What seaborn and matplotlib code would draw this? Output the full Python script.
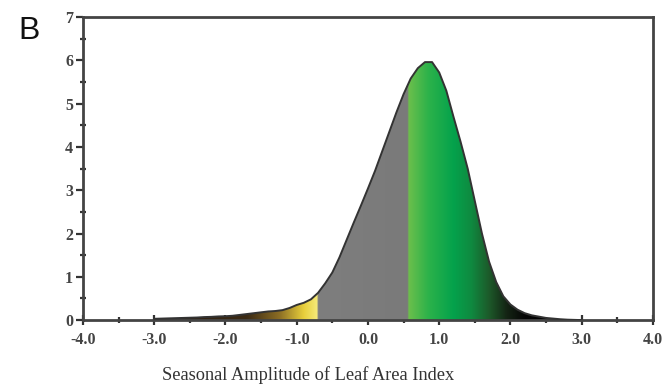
import numpy as np
import pandas as pd
import matplotlib
matplotlib.use("Agg")
import matplotlib.pyplot as plt
from matplotlib.colors import LinearSegmentedColormap, to_rgb
from matplotlib.ticker import MultipleLocator, FormatStrFormatter
import seaborn as sns

# Seasonal amplitude of LAI and its frequency density
lai_amplitude = [-3.0, -2.9, -2.8, -2.7, -2.6, -2.5, -2.4, -2.3, -2.2, -2.1,
                 -2.0, -1.9, -1.8, -1.7, -1.6, -1.5, -1.4, -1.3, -1.2, -1.1,
                 -1.0, -0.9, -0.8, -0.7, -0.6, -0.5, -0.4, -0.3, -0.2, -0.1,
                 0.0, 0.1, 0.2, 0.3, 0.4, 0.5, 0.6, 0.7, 0.8, 0.9,
                 1.0, 1.1, 1.2, 1.3, 1.4, 1.5, 1.6, 1.7, 1.8, 1.9,
                 2.0, 2.1, 2.2, 2.3, 2.4, 2.5, 2.6, 2.7, 2.8, 2.9, 3.0]
density = [0.03, 0.035, 0.04, 0.045, 0.05, 0.055, 0.06, 0.07, 0.075, 0.085,
           0.09, 0.10, 0.12, 0.14, 0.16, 0.18, 0.20, 0.21, 0.23, 0.28,
           0.35, 0.40, 0.48, 0.63, 0.85, 1.10, 1.45, 1.85, 2.25, 2.64,
           3.04, 3.45, 3.90, 4.35, 4.80, 5.22, 5.58, 5.82, 5.96, 5.96,
           5.72, 5.30, 4.70, 4.12, 3.50, 2.75, 2.00, 1.35, 0.88, 0.55,
           0.36, 0.24, 0.16, 0.11, 0.08, 0.05, 0.035, 0.02, 0.01, 0.005, 0.0]

x_ticks = [-4.0, -3.0, -2.0, -1.0, 0.0, 1.0, 2.0, 3.0, 4.0]
y_ticks = [0, 1, 2, 3, 4, 5, 6, 7]

df = pd.DataFrame({"amp": lai_amplitude, "dens": density})

sns.set_style("ticks")
plt.rcParams["font.family"] = ["Liberation Serif", "DejaVu Serif"]

fig = plt.figure(figsize=(6.69, 3.88), dpi=100)
ax = fig.add_axes([0.124, 0.175, 0.852, 0.781])

# colour ramp along the x axis: brown->yellow, grey, green->black
xmin, xmax = -3.0, 3.0
stops = [(-3.0, "#2a1c12"), (-1.7, "#3b2a14"), (-1.25, "#8a6c24"),
         (-0.9, "#e8cf3c"), (-0.71, "#f6ea7a"),
         (-0.70, "#7e7e7e"), (0.56, "#7a7a7a"),
         (0.57, "#6cbf4c"), (0.85, "#2cb24a"), (1.2, "#04a24c"),
         (1.45, "#0f8a40"), (1.7, "#1d5a2a"), (1.95, "#142414"),
         (2.2, "#060606"), (3.0, "#000000")]
cmap = LinearSegmentedColormap.from_list(
    "lai", [((p - xmin) / (xmax - xmin), to_rgb(c)) for p, c in stops], N=1024)
grad = np.linspace(0, 1, 1200).reshape(1, -1)

poly = ax.fill_between(df["amp"], 0, df["dens"], color="none", lw=0)
img = ax.imshow(grad, cmap=cmap, extent=[xmin, xmax, 0, 7], aspect="auto",
                origin="lower", zorder=1, interpolation="bilinear")
img.set_clip_path(poly.get_paths()[0], transform=ax.transData)

sns.lineplot(data=df, x="amp", y="dens", ax=ax, color="#333333", lw=1.4,
             zorder=3)

ax.set_xlim(-4, 4)
ax.set_ylim(0, 7)
ax.set_xticks(x_ticks)
ax.set_yticks(y_ticks)
ax.xaxis.set_major_formatter(FormatStrFormatter("%.1f"))
ax.xaxis.set_minor_locator(MultipleLocator(0.5))
ax.yaxis.set_minor_locator(MultipleLocator(0.5))
ax.tick_params(axis="both", which="major", labelsize=11.5, colors="#333333",
               length=5, width=1.6, direction="out", pad=2)
ax.tick_params(axis="x", which="major", direction="inout", length=7, pad=5)
ax.tick_params(axis="both", which="minor", length=4, width=1.6,
               direction="inout", colors="#333333")
for lab in ax.get_xticklabels() + ax.get_yticklabels():
    lab.set_fontweight("bold")
    lab.set_color("#444444")

for side in ["left", "right", "top", "bottom"]:
    ax.spines[side].set_visible(True)
    ax.spines[side].set_color("#444444")
    ax.spines[side].set_linewidth(2.0)

ax.set_xlabel("Seasonal Amplitude of Leaf Area Index", fontsize=13.2,
              color="#333333")
ax.xaxis.set_label_coords(0.395, -0.152)
ax.set_ylabel("")

fig.text(0.027, 0.9, "B", fontsize=23, family="Liberation Sans",
         color="#111111")

fig.savefig("out.png", dpi=100, facecolor="white")
